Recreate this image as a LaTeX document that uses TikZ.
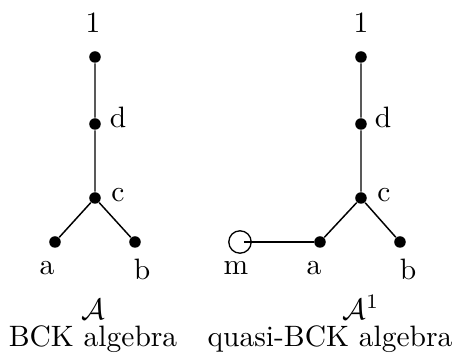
\documentclass[tikz,border=0pt]{standalone}
\begin{document}
\begin{tikzpicture}[x=0.339pt,y=-0.339pt,
  vtx/.style={circle,fill=black,inner sep=0pt,minimum size=3.9pt},
  hollow/.style={circle,draw=black,line width=0.45pt,inner sep=0pt,minimum size=7.6pt},
  lbl/.style={inner sep=0pt},
  edge/.style={line width=0.5pt}]
\useasboundingbox (0,0) rectangle (452,362);
% left diagram
\node[vtx] (l1) at (95,57) {};
\node[vtx] (ld) at (95,124) {};
\node[vtx] (lc) at (95,198) {};
\node[vtx] (la) at (55,242) {};
\node[vtx] (lb) at (135,242) {};
\draw[edge] (l1) -- (ld) -- (lc) -- (la);
\draw[edge] (lc) -- (lb);
\node[lbl] (l1t) at (93,23) {1};
\node[lbl] (ldt) at (118,117) {d};
\node[lbl] (lct) at (118,195) {c};
\node[lbl] (lat) at (47,268) {a};
\node[lbl] (lbt) at (142,269) {b};
\node[lbl] (lname) at (93,309) {$\mathcal{A}$};
\node[lbl] (ltitle) at (93,339) {BCK algebra};
% right diagram
\node[vtx] (r1) at (361,57) {};
\node[vtx] (rd) at (361,124) {};
\node[vtx] (rc) at (361,198) {};
\node[vtx] (ra) at (320,242) {};
\node[vtx] (rb) at (400,242) {};
\node[hollow] (rm) at (240,242) {};
\coordinate (rmi) at (244,242);
\draw[edge] (r1) -- (rd) -- (rc) -- (ra);
\draw[edge] (rc) -- (rb);
\draw[edge] (rmi) -- (ra);
\node[lbl] (r1t) at (361,23) {1};
\node[lbl] (rdt) at (383,117) {d};
\node[lbl] (rct) at (384,195) {c};
\node[lbl] (rmt) at (236,268) {m};
\node[lbl] (rat) at (314,268) {a};
\node[lbl] (rbt) at (408,269) {b};
\node[lbl] (rname) at (361,307) {$\mathcal{A}^1$};
\node[lbl] (rtitle) at (330,339) {quasi-BCK algebra};
\end{tikzpicture}
\end{document}
